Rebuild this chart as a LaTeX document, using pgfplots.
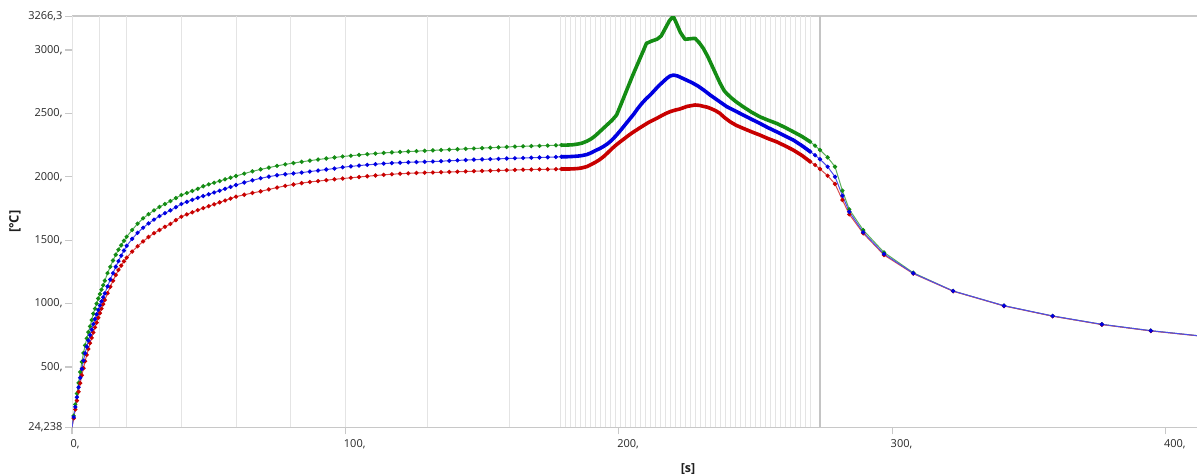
\documentclass[border=0pt]{standalone}
\usepackage{pgfplots}
\pgfplotsset{compat=1.18}
\usepackage{fontspec}
\setmainfont{Open Sans}
\definecolor{cgreen}{RGB}{20,140,20}
\definecolor{cblue}{RGB}{0,0,225}
\definecolor{cred}{RGB}{200,0,0}
\definecolor{axgray}{RGB}{200,200,200}
\definecolor{gridgray}{RGB}{228,228,228}
\definecolor{txt}{RGB}{40,40,40}
\pgfplotsset{
  thinser/.style={line width=1pt, mark=*, mark size=1.6pt, mark options={solid, fill=#1, draw=#1}, color=#1!70},
  thickser/.style={line width=3.6pt, line join=round, line cap=round, color=#1, mark=none},
}
\begin{document}
\begin{tikzpicture}
\useasboundingbox (0,0) rectangle (1197pt,476pt);
\begin{axis}[
  at={(72pt,48.7pt)}, anchor=south west,
  scale only axis, width=1125pt, height=411.1pt,
  xmin=0, xmax=411.5, ymin=24.238, ymax=3266.3,
  separate axis lines,
  x axis line style={draw=axgray, line width=1.5pt},
  y axis line style={draw=none},
  tick pos=left, tick align=outside,
  major tick length=7pt,
  tick style={draw=axgray, line width=1.2pt},
  xtick={0,100,200,300,400},
  xticklabels={{0,},{100,},{200,},{300,},{400,}},
  ytick={24.238,500,1000,1500,2000,2500,3000,3266.3},
  yticklabels={{24,238},{500,},{1000,},{1500,},{2000,},{2500,},{3000,},{3266,3}},
  ticklabel style={font=\fontsize{11}{13}\selectfont, text=txt},
  yticklabel style={xshift=1pt},
  xticklabel style={anchor=north west, xshift=-5pt, yshift=-1.5pt},
  extra x ticks={0,10,20,40,60,80,100,130,160,178.7,180.53,...,270.3},
  extra x tick labels={},
  extra x tick style={xmajorgrids=true, major tick length=0pt, major grid style={draw=gridgray, line width=1pt}},
]
\draw[color={rgb,255:red,196;green,196;blue,196}, line width=1.3pt] (axis cs:273.6,24.238) -- (axis cs:273.6,3266.3);

% ---- early (sparse, with marks)
\addplot[thinser=cgreen] coordinates {(0,24)(0.6,115)(1.2,205)(1.8,290)(2.4,375)(3.0,460)(3.6,540)(4.2,610)(4.8,670)(5.4,725)(6.0,775)(6.6,820)(7.2,870)(7.8,920)(8.4,960)(9.0,1000)(9.6,1040)(10.2,1075)(10.8,1110)(11.4,1145)(12,1180)(13,1240)(14,1290)(15,1340)(16,1385)(17,1425)(18,1460)(19,1495)(20,1527)(22,1580)(24,1630)(26,1672)(28,1705)(30,1735)(32,1762)(34,1785)(36,1808)(38,1832)(40,1856)(42,1872)(44,1888)(46,1905)(48,1925)(50,1940)(52,1953)(54,1966)(56,1980)(58,1993)(60,2006)(63,2025)(66,2043)(69,2058)(72,2072)(75,2086)(78,2098)(81,2108)(84,2118)(87,2127)(90,2136)(93,2144)(96,2152)(99,2160)(102,2166)(105,2172)(108,2178)(111,2183)(114,2188)(117,2192)(120,2196)(123,2199)(126,2202)(129,2205)(132,2208)(135,2211)(138,2214)(141,2217)(144,2220)(147,2223)(150,2226)(153,2229)(156,2232)(159,2235)(162,2238)(165,2240)(168,2242)(171,2244)(174,2246)(177,2248)(179,2250)};
\addplot[thinser=cred] coordinates {(0,24)(0.6,95)(1.2,165)(1.8,235)(2.4,305)(3.0,372)(3.6,435)(4.2,490)(4.8,545)(5.4,595)(6.0,642)(6.6,688)(7.2,730)(7.8,772)(8.4,812)(9.0,850)(9.6,888)(10.2,925)(10.8,960)(11.4,995)(12,1028)(13,1082)(14,1132)(15,1180)(16,1225)(17,1265)(18,1300)(19,1333)(20,1362)(22,1410)(24,1452)(26,1490)(28,1525)(30,1555)(32,1580)(34,1605)(36,1628)(38,1658)(40,1685)(42,1703)(44,1720)(46,1737)(48,1753)(50,1768)(52,1783)(54,1798)(56,1813)(58,1828)(60,1843)(63,1858)(66,1872)(69,1885)(72,1900)(75,1915)(78,1928)(81,1939)(84,1950)(87,1959)(90,1966)(93,1973)(96,1980)(99,1986)(102,1992)(105,1998)(108,2004)(111,2010)(114,2015)(117,2020)(120,2024)(123,2027)(126,2030)(129,2032)(132,2034)(135,2036)(138,2038)(141,2040)(144,2042)(147,2044)(150,2046)(153,2048)(156,2050)(159,2052)(162,2054)(165,2056)(168,2057)(171,2058)(174,2059)(177,2060)(179,2061)};
\addplot[thinser=cblue] coordinates {(0,24)(0.6,105)(1.2,185)(1.8,262)(2.4,340)(3.0,415)(3.6,485)(4.2,550)(4.8,608)(5.4,660)(6.0,708)(6.6,752)(7.2,795)(7.8,838)(8.4,878)(9.0,915)(9.6,950)(10.2,985)(10.8,1018)(11.4,1050)(12,1080)(13,1135)(14,1190)(15,1240)(16,1290)(17,1335)(18,1378)(19,1418)(20,1455)(22,1510)(24,1558)(26,1598)(28,1632)(30,1662)(32,1690)(34,1713)(36,1735)(38,1760)(40,1785)(42,1802)(44,1818)(46,1834)(48,1848)(50,1862)(52,1876)(54,1890)(56,1905)(58,1920)(60,1935)(63,1955)(66,1972)(69,1988)(72,2001)(75,2012)(78,2020)(81,2026)(84,2033)(87,2041)(90,2049)(93,2057)(96,2065)(99,2075)(102,2082)(105,2088)(108,2094)(111,2099)(114,2104)(117,2108)(120,2111)(123,2114)(126,2116)(129,2118)(132,2120)(135,2123)(138,2126)(141,2129)(144,2132)(147,2135)(150,2137)(153,2139)(156,2141)(159,2144)(162,2146)(165,2148)(168,2150)(171,2152)(174,2154)(177,2156)(179,2158)};

% ---- dense region (many substeps -> thick)
\addplot[thickser=cgreen] coordinates {(179,2250)(181,2250)(183,2252)(185,2258)(186.5,2265)(188.3,2280)(190,2300)(191.5,2325)(193,2355)(194.5,2385)(196,2415)(197.5,2445)(199.2,2487)(200.5,2555)(202,2635)(203.5,2715)(205,2795)(206.5,2870)(208,2945)(209.2,3005)(210.1,3052)(212,3070)(214,3085)(215.5,3110)(217,3170)(218.5,3230)(219.9,3266)(221,3215)(222.5,3140)(224.2,3084)(226,3088)(227.9,3092)(229.5,3055)(230.9,3013)(232.5,2950)(234,2880)(235.5,2810)(237,2740)(238.5,2680)(239.4,2658)(241,2625)(243,2590)(245.5,2552)(248.5,2510)(251.6,2473)(254.5,2447)(257.7,2421)(260.7,2390)(263.8,2355)(267,2318)(270,2276)};
\addplot[thickser=cblue] coordinates {(179,2158)(181,2158)(183,2160)(185,2163)(186.5,2167)(188.3,2175)(190,2190)(191.5,2207)(193,2222)(194.5,2240)(196,2262)(197.5,2290)(199.2,2329)(201,2375)(202.5,2415)(204,2455)(205.5,2495)(207,2540)(208.5,2580)(210,2615)(211.5,2645)(213,2680)(214.5,2715)(216,2745)(217.5,2775)(218.7,2794)(220,2802)(221.5,2795)(223,2780)(224.5,2765)(226,2750)(227.2,2737)(229,2715)(231,2685)(233.4,2645)(236.5,2598)(239.5,2553)(242.5,2520)(245.5,2487)(248.5,2454)(251.6,2421)(254.5,2388)(257.7,2355)(260.7,2323)(263.8,2290)(267,2245)(270,2198)};
\addplot[thickser=cred] coordinates {(179,2061)(181,2061)(183,2062)(185,2065)(186.5,2070)(188.3,2080)(190,2098)(191.5,2115)(193,2135)(194.5,2160)(196,2190)(197.5,2222)(199,2250)(200.5,2276)(202,2300)(203.5,2325)(205,2348)(206.5,2369)(208,2390)(209.5,2410)(211,2430)(212.6,2447)(214,2462)(215.5,2480)(217,2497)(218.7,2513)(220.5,2525)(222.4,2535)(225,2555)(227.9,2566)(229.5,2563)(231,2555)(232.5,2548)(234,2535)(235.5,2520)(237,2500)(238.5,2470)(240.7,2434)(243,2405)(245.5,2382)(248.5,2355)(251.6,2329)(254.5,2302)(257.7,2276)(260.7,2245)(263.8,2211)(267,2168)(270,2119)};

% ---- cooling tail
\addplot[thinser=cgreen] coordinates {(270,2276)(271.8,2245)(273.6,2211)(276.4,2153)(279.1,2079)(281.8,1890)(284.3,1743)(289.4,1580)(297,1404)(307.7,1243)(322.3,1099)(340.9,983)(358.7,902)(376.7,836)(394.6,786)(412.5,745)};
\addplot[thinser=cred] coordinates {(270,2119)(271.8,2093)(273.6,2061)(276.4,2008)(279.1,1943)(281.8,1817)(284.3,1704)(289.4,1554)(297,1383)(307.7,1236)(322.3,1097)(340.9,981)(358.7,900)(376.7,834)(394.6,784)(412.5,744)};
\addplot[thinser=cblue] coordinates {(270,2198)(271.8,2170)(273.6,2138)(276.4,2079)(279.1,2000)(281.8,1851)(284.3,1724)(289.4,1562)(297,1391)(307.7,1239)(322.3,1099)(340.9,983)(358.7,902)(376.7,836)(394.6,786)(412.5,745)};
\end{axis}
\node[font=\bfseries\fontsize{13}{15}\selectfont, text={rgb,255:red,30;green,30;blue,30}, rotate=90] at (15pt,254.3pt) {[°C]};
\node[font=\bfseries\fontsize{12.5}{15}\selectfont, text={rgb,255:red,30;green,30;blue,30}] at (688pt,6.5pt) {[s]};
\end{tikzpicture}
\end{document}
